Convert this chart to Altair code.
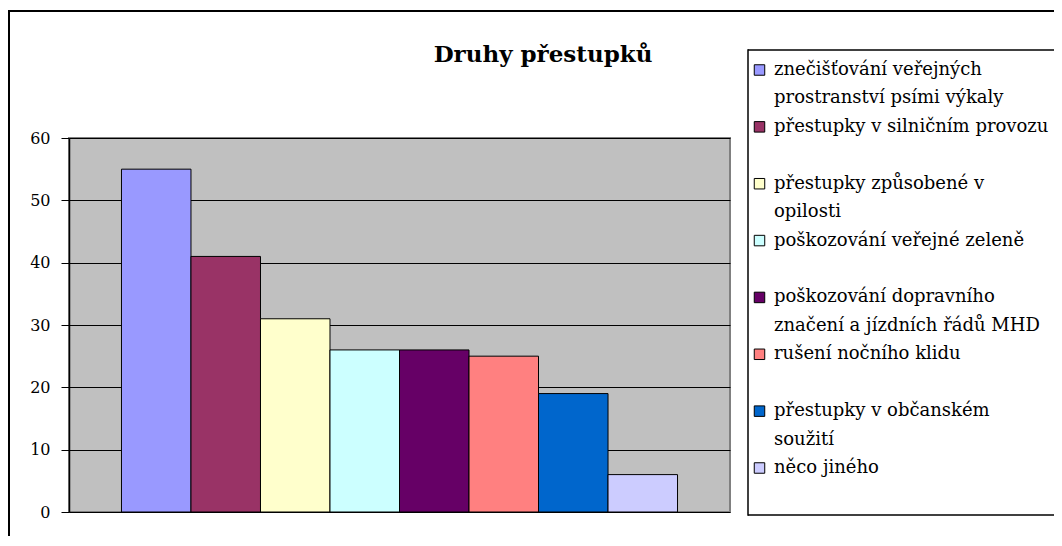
import altair as alt
import pandas as pd

# ---- data ----
categories = [
    "znečišťování veřejných\nprostranství psími výkaly",
    "přestupky v silničním provozu",
    "přestupky způsobené v\nopilosti",
    "poškozování veřejné zeleně",
    "poškozování dopravního\nznačení a jízdních řádů MHD",
    "rušení nočního klidu",
    "přestupky v občanském\nsoužití",
    "něco jiného",
]
values = [55, 41, 31, 26, 26, 25, 19, 6]
colors = ["#9999FF", "#993366", "#FFFFCC", "#CCFFFF", "#660066", "#FF8080", "#0066CC", "#CCCCFF"]
title_text = "Druhy přestupků"
y_ticks = [0, 10, 20, 30, 40, 50, 60]

FONT = "DejaVu Serif"
RIGHT = 985  # right edge of the drawing, in plot coordinates

bars_df = pd.DataFrame({"cat": categories, "value": values})

leg_rows = []
for i, lab in enumerate(categories):
    for j, line in enumerate(lab.split("\n")):
        leg_rows.append({"cat": lab, "line": line, "row": 2 * i + j, "first": j == 0})
leg_df = pd.DataFrame(leg_rows)

color_scale = alt.Scale(domain=categories, range=colors)

bars = alt.Chart(bars_df).mark_bar(stroke="black", strokeWidth=1).encode(
    x=alt.X("cat:N", sort=None, axis=None,
            scale=alt.Scale(paddingInner=0, paddingOuter=0.755)),
    y=alt.Y("value:Q", scale=alt.Scale(domain=[0, 60], nice=False),
            axis=alt.Axis(values=y_ticks, title=None, grid=True, gridColor="black",
                          gridOpacity=1, gridWidth=1, tickSize=8, tickColor="black",
                          domainColor="black", domainWidth=1.5, labelFont=FONT,
                          labelFontSize=16, labelColor="black", labelPadding=11)),
    color=alt.Color("cat:N", scale=color_scale, legend=None),
)

leg_y = alt.Y("row:Q", axis=None, scale=alt.Scale(domain=[0, 14], range=[-68, 330], nice=False))

one = bars_df.head(1)

# frame of the whole chart (right and bottom edges lie outside the window)
outer_top = alt.Chart(one).mark_rule(color="black", strokeWidth=2).encode(
    x=alt.value(-61), x2=alt.value(RIGHT), y=alt.value(-127))
outer_left = alt.Chart(one).mark_rule(color="black", strokeWidth=2).encode(
    x=alt.value(-60), y=alt.value(-128), y2=alt.value(420))

# legend frame (right edge lies outside the window)
legend_bg = alt.Chart(one).mark_rect(fill="white", strokeWidth=0).encode(
    x=alt.value(679), x2=alt.value(RIGHT), y=alt.value(-88), y2=alt.value(377))
legend_top = alt.Chart(one).mark_rule(color="black", strokeWidth=1.5).encode(
    x=alt.value(679), x2=alt.value(RIGHT), y=alt.value(-88))
legend_bottom = alt.Chart(one).mark_rule(color="black", strokeWidth=1.5).encode(
    x=alt.value(679), x2=alt.value(RIGHT), y=alt.value(377))
legend_left = alt.Chart(one).mark_rule(color="black", strokeWidth=1.5).encode(
    x=alt.value(679), y=alt.value(-88.75), y2=alt.value(377.75))

leg_sym = alt.Chart(leg_df).transform_filter("datum.first").mark_square(
    size=110, stroke="black", strokeWidth=1, opacity=1
).encode(
    x=alt.value(690.5),
    y=leg_y,
    color=alt.Color("cat:N", scale=color_scale, legend=None),
)

leg_text = alt.Chart(leg_df).mark_text(
    align="left", baseline="middle", font=FONT, fontSize=18, color="black"
).encode(x=alt.value(705), y=leg_y, text="line:N")

title = alt.Chart(one).mark_text(
    align="center", baseline="alphabetic", font=FONT, fontSize=23,
    fontWeight="bold", color="black"
).encode(x=alt.value(474), y=alt.value(-76), text=alt.value(title_text))

chart = alt.layer(
    outer_top, outer_left, bars, legend_bg, legend_top, legend_bottom, legend_left,
    leg_sym, leg_text, title
).resolve_scale(y="independent").properties(
    width=661, height=374,
    autosize=alt.AutoSizeParams(type="none"),
    padding={"left": 61, "top": 130, "right": 324, "bottom": 24},
    background="white",
).configure_view(fill="#C0C0C0", stroke="#808080", strokeWidth=2)

chart.save("out.html", embed_options={"renderer": "svg", "actions": False})
